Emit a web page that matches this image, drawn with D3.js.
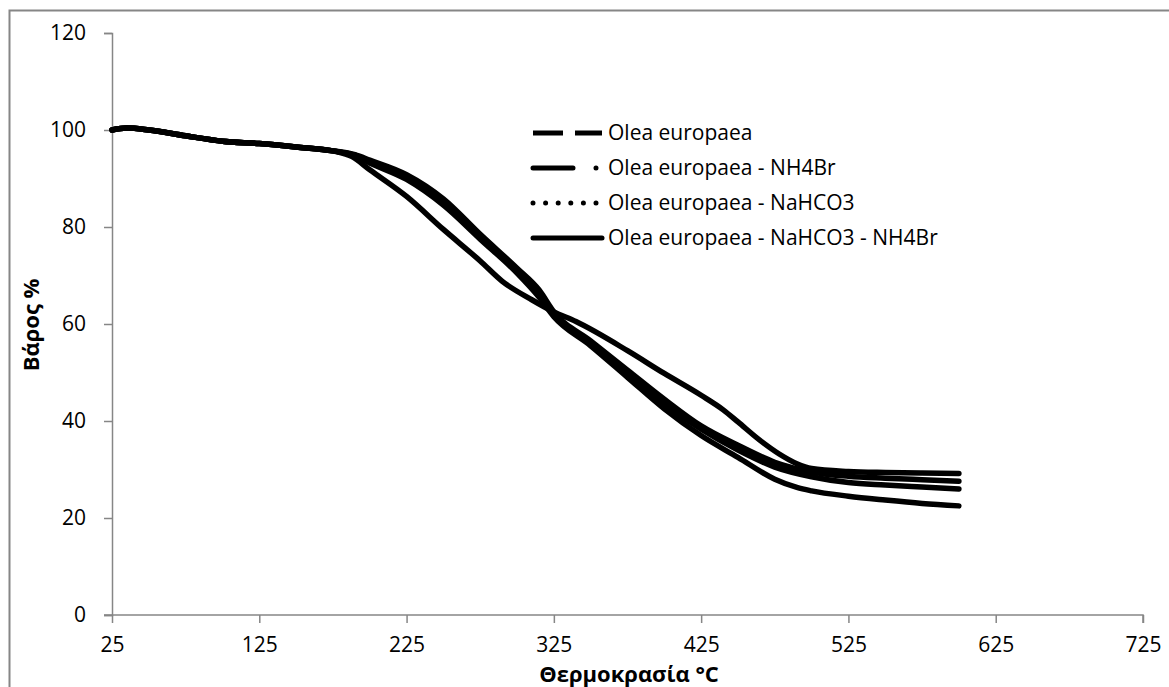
<!DOCTYPE html>
<html>
<head>
<meta charset="utf-8">
<script src="https://cdn.jsdelivr.net/npm/d3@7"></script>
<style>
  body { margin: 0; background: #fff; }
  text { font-family: "Open Sans", sans-serif; fill: #000; }
</style>
</head>
<body>
<svg id="chart" width="1169" height="687"></svg>
<script>
// ---- data ----
const seriesNames = [
  "Olea europaea",
  "Olea europaea - NH4Br",
  "Olea europaea - NaHCO3",
  "Olea europaea - NaHCO3 - NH4Br"
];
const temps1 = [25, 35, 50, 75, 100, 125, 150, 175, 190, 200, 225, 250, 275, 300, 315, 325, 350, 375, 400, 425, 450, 475, 500, 525, 550, 575, 600];
const weight1 = [100, 100.4, 100, 98.8, 97.7, 97.2, 96.5, 95.7, 94.9, 93.8, 90.8, 85.8, 78.5, 71.5, 67, 62.5, 56.5, 50.5, 44.5, 39, 35, 31.5, 29.5, 28.6, 28.2, 27.9, 27.6];
const temps2 = temps1;
const weight2 = [100, 100.4, 100, 98.8, 97.7, 97.2, 96.5, 95.7, 94.8, 93.5, 90.2, 85, 78, 71, 66, 62, 56, 49.8, 43.5, 38.3, 34, 30.5, 28.5, 27.3, 26.8, 26.4, 26.0];
const temps3 = [25, 35, 50, 75, 100, 125, 150, 175, 190, 200, 225, 250, 275, 300, 315, 325, 350, 375, 400, 425, 450, 475, 490, 500, 525, 550, 575, 600];
const weight3 = [100, 100.4, 100, 98.8, 97.7, 97.2, 96.5, 95.7, 94.7, 93.2, 89.8, 84.5, 77.5, 70.5, 65.5, 61.5, 55.5, 49, 42.5, 37, 32.5, 28, 26.3, 25.6, 24.5, 23.7, 23, 22.5];
const temps4 = [25, 35, 50, 75, 100, 125, 150, 175, 188, 200, 225, 250, 275, 290, 310, 325, 340, 375, 400, 425, 440, 450, 465, 478, 490, 500, 525, 550, 575, 600];
const weight4 = [100, 100.4, 100, 98.8, 97.7, 97.2, 96.5, 95.7, 94.5, 91.8, 86.3, 79.5, 73, 68.8, 65, 62.5, 60.5, 54.5, 49.8, 45.3, 42.3, 39.8, 36, 33.2, 31.2, 30.2, 29.6, 29.4, 29.3, 29.2];
const xTicks = [25, 125, 225, 325, 425, 525, 625, 725];
const yTicks = [0, 20, 40, 60, 80, 100, 120];
const xTitle = "Θερμοκρασία °C";
const yTitle = "Βάρος %";

const allSeries = [
  {name: seriesNames[0], t: temps1, w: weight1, dash: "30,12"},
  {name: seriesNames[1], t: temps2, w: weight2, dash: "40,23,0,30"},
  {name: seriesNames[2], t: temps3, w: weight3, dash: "0,12.6"},
  {name: seriesNames[3], t: temps4, w: weight4, dash: null}
];

// ---- chart ----
const svg = d3.select("#chart");
const gray = "#868686";

svg.append("rect")
  .attr("x", 9.5).attr("y", 10.5).attr("width", 1300).attr("height", 800)
  .attr("fill", "none").attr("stroke", gray).attr("stroke-width", 2);

const x = d3.scaleLinear().domain([25, 725]).range([112, 1143]);
const y = d3.scaleLinear().domain([0, 120]).range([615, 33]);

const xAxis = svg.append("g").attr("transform", `translate(0,${y(0)})`)
  .call(d3.axisBottom(x).tickValues(xTicks).tickSize(8).tickPadding(14).tickFormat(d3.format("d")));
const yAxis = svg.append("g").attr("transform", `translate(${x(25)},0)`)
  .call(d3.axisLeft(y).tickValues(yTicks).tickSize(8).tickPadding(18).tickFormat(d3.format("d")));

[xAxis, yAxis].forEach(g => {
  g.select(".domain").attr("stroke", gray).attr("stroke-width", 1.5);
  g.selectAll(".tick line").attr("stroke", gray).attr("stroke-width", 1.5);
  g.selectAll(".tick text").style("font-family", "'Open Sans', sans-serif").style("font-size", "21px").attr("fill", "#000");
});
xAxis.select(".domain").attr("d", `M${x(25) - 8},0H${x(725)}V8`);

const line = d3.line().x(d => x(d[0])).y(d => y(d[1])).curve(d3.curveMonotoneX);

allSeries.forEach(s => {
  const pts = s.t.map((t, i) => [t, s.w[i]]);
  svg.append("path").datum(pts)
    .attr("d", line)
    .attr("fill", "none").attr("stroke", "#000").attr("stroke-width", 5.5)
    .attr("stroke-linecap", "round").attr("stroke-linejoin", "round");
});

// legend
const legY = [133, 168, 203, 238];
const lg = svg.append("g");
allSeries.forEach((s, i) => {
  const ly = legY[i];
  const p = lg.append("line")
    .attr("x1", 533).attr("x2", 602).attr("y1", ly).attr("y2", ly)
    .attr("stroke", "#000").attr("stroke-width", 5)
    .attr("stroke-linecap", (i === 0) ? "butt" : "round");
  if (s.dash) p.attr("stroke-dasharray", s.dash);
  lg.append("text").attr("x", 608).attr("y", ly).attr("dy", "0.35em")
    .style("font-size", "21px").text(s.name);
});

// axis titles
svg.append("text")
  .attr("x", 629).attr("y", 674).attr("dy", "0.35em").attr("text-anchor", "middle")
  .style("font-size", "22px").style("font-weight", "bold").text(xTitle);
svg.append("text")
  .attr("transform", `translate(31,325) rotate(-90)`).attr("dy", "0.35em").attr("text-anchor", "middle")
  .style("font-size", "22px").style("font-weight", "bold").text(yTitle);
</script>
</body>
</html>
